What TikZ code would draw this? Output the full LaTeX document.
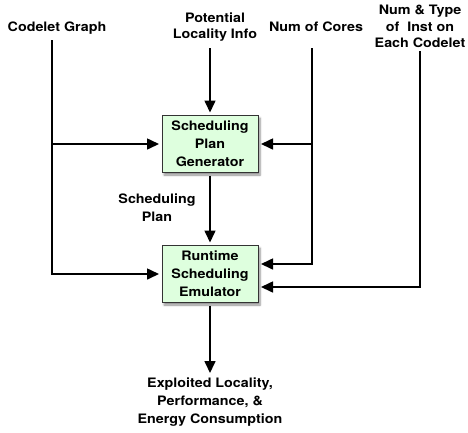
\documentclass[tikz,border=0pt]{standalone}
\usepackage{fontspec}
\setmainfont[FakeStretch=1.1]{TeX Gyre Heros}
\usetikzlibrary{positioning, arrows.meta, shadows.blur}

\begin{document}
\begin{tikzpicture}[x=1pt, y=-1pt,
          % Base text style
          txt/.style={align=center, font=\fontsize{13}{18}\selectfont\bfseries, inner sep=2pt},
          % Inputs along the top, their line starts below the south anchor
          inlabel/.style={txt, anchor=south, inner xsep=2pt, font=\fontsize{13}{16.5}\selectfont\bfseries},
          % Processing stages
          stage/.style={txt, rectangle, draw=black!80, fill=green!13, line width=0.8pt,
                        minimum width=96pt, minimum height=57pt, outer sep=3pt,
                        blur shadow={shadow xshift=2pt, shadow yshift=-2.5pt, shadow blur steps=6, shadow opacity=45}},
          % Connectors
          flow/.style={line width=1.6pt},
          flowarrow/.style={flow, -{Triangle[length=12pt, width=11pt]}}
        ]
          \useasboundingbox (0,0) rectangle (468,432);

          % ==========================================
          % 1. Inputs
          % ==========================================
          \node[inlabel, inner ysep=5pt] (codelet) at (57,40) {Codelet Graph};
          \node[inlabel, inner ysep=6pt] (locality) at (215,48) {Potential\\Locality Info};
          \node[inlabel, inner ysep=16pt] (cores) at (316,48) {Num of Cores};
          \node[inlabel, inner ysep=3pt] (insts) at (420,51) {Num \& Type\\of~ Inst on\\Each Codelet};

          % ==========================================
          % 2. Stages
          % ==========================================
          \node[stage] (gen) at (210,144) {Scheduling\\Plan\\Generator};
          \node[stage] (emu) at (210,274) {Runtime\\Scheduling\\Emulator};
          \node[txt] (plan) at (157,208) {Scheduling\\Plan};

          % ==========================================
          % 3. Output
          % ==========================================
          \node[txt, anchor=north, inner ysep=5pt] (result) at (210,373) {Exploited Locality,\\Performance, \&\\Energy Consumption};

          % ==========================================
          % 4. Edges
          % ==========================================
          % Codelet graph feeds both stages
          \draw[flowarrow] ([xshift=-5pt]codelet.south) |- (emu.west);
          \draw[flowarrow] ([xshift=-5pt]codelet.south |- gen.west) -- (gen.west);

          \draw[flowarrow] ([xshift=-5pt]locality.south) -- (gen.north);

          % Core count feeds both stages
          \draw[flowarrow] ([xshift=-4pt]cores.south) |- ([yshift=10pt]emu.east);
          \draw[flowarrow] ([xshift=-4pt]cores.south |- gen.east) -- (gen.east);

          \draw[flowarrow] (insts.south) |- ([yshift=-13pt]emu.east);

          \draw[flowarrow] (gen.south) -- (emu.north);
          \draw[flowarrow] (emu.south) -- (result.north);
        \end{tikzpicture}
\end{document}
